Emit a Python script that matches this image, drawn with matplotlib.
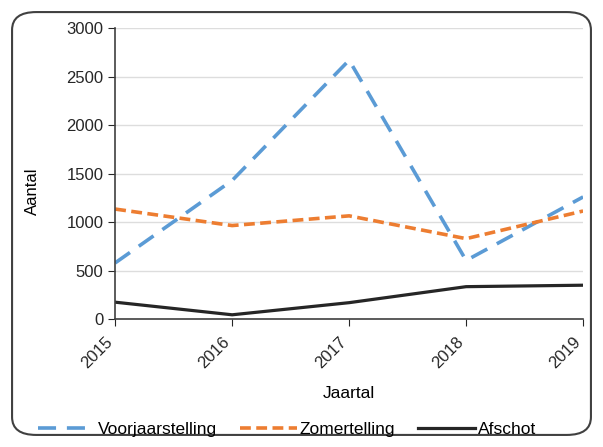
import matplotlib.pyplot as plt
from matplotlib.patches import FancyBboxPatch

# data
jaren = ['2015', '2016', '2017', '2018', '2019']
voorjaar = [580, 1430, 2670, 605, 1260]
zomer = [1135, 965, 1065, 830, 1115]
afschot = [175, 45, 170, 335, 350]

plt.rcParams['font.family'] = 'Liberation Sans'

fig = plt.figure(figsize=(6.03, 4.47), dpi=100)

# afgeronde rand om de hele grafiek
frame = FancyBboxPatch((0.02, 0.027), 0.96, 0.946,
                       boxstyle='round,pad=0,rounding_size=0.04',
                       transform=fig.transFigure, facecolor='none',
                       edgecolor='#404040', linewidth=1.5)
fig.patches.append(frame)

ax = fig.add_axes([0.191, 0.286, 0.776, 0.651])
x = range(len(jaren))

ax.plot(x, voorjaar, color='#5B9BD5', linewidth=2.6, linestyle=(0, (5, 3)),
        label='Voorjaarstelling')
ax.plot(x, zomer, color='#ED7D31', linewidth=2.6, linestyle=(0, (3, 1.5)),
        label='Zomertelling')
ax.plot(x, afschot, color='#262626', linewidth=2.3, label='Afschot')

ax.set_xlim(0, 4)
ax.set_ylim(0, 3000)
ax.set_yticks(range(0, 3001, 500))
ax.set_xticks(list(x))
ax.set_xticklabels(jaren, rotation=45, ha='right', va='top')
ax.tick_params(axis='both', labelsize=12, colors='#262626', direction='out', length=5)
ax.tick_params(axis='x', pad=6)
ax.yaxis.grid(True, color='#dddddd', linewidth=1)
ax.set_axisbelow(True)
for s in ['top', 'right']:
    ax.spines[s].set_visible(False)
for s in ['left', 'bottom']:
    ax.spines[s].set_color('#404040')
    ax.spines[s].set_linewidth(1.2)

ax.set_xlabel('Jaartal', fontsize=12.5)
ax.xaxis.set_label_coords(0.5, -0.23)
ax.set_ylabel('Aantal', fontsize=12)
ax.yaxis.set_label_coords(-0.16, 0.44)

fig.legend(loc='center', bbox_to_anchor=(0.476, 0.04), ncol=3, frameon=False,
           fontsize=12.5, handlelength=3.3, columnspacing=1.3, handletextpad=0.15)

fig.savefig('out.png', dpi=100)
